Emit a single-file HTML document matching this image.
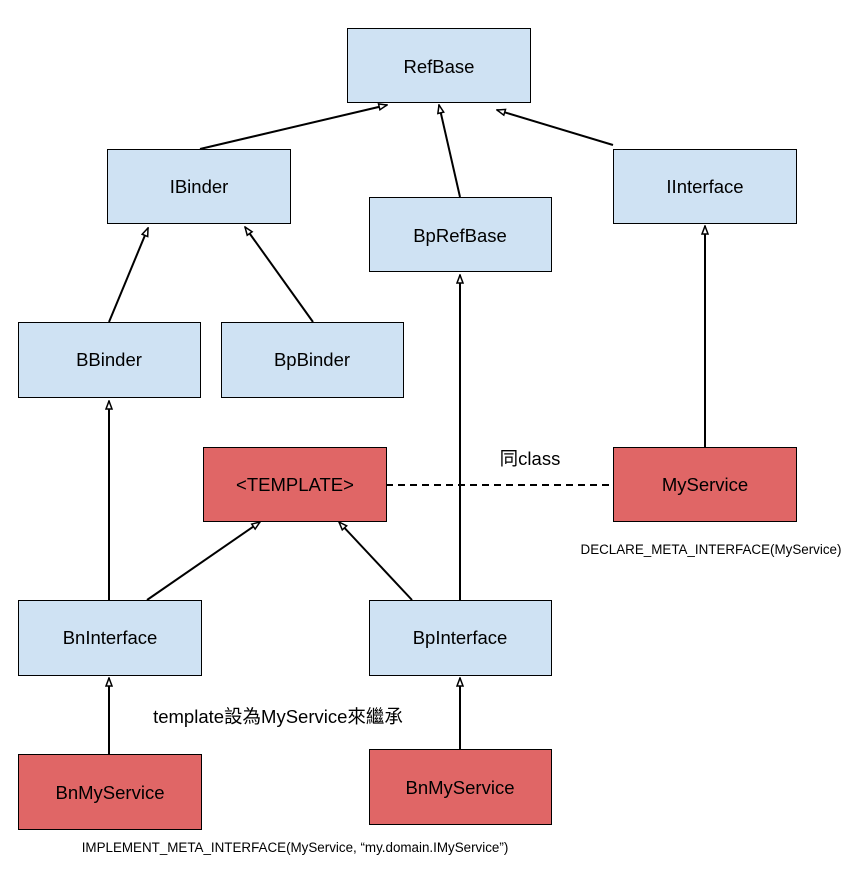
<!DOCTYPE html>
<html><head><meta charset="utf-8"><style>body{margin:0;background:#fff}</style></head><body>
<svg width="858" height="866" xmlns="http://www.w3.org/2000/svg" font-family="'Liberation Sans','Noto Sans CJK TC',sans-serif">
<defs><marker id="a" markerWidth="10" markerHeight="10" refX="9" refY="4" orient="auto" markerUnits="userSpaceOnUse"><path d="M1,1 L9,4 L1,7 Z" fill="#fff" stroke="#000" stroke-width="1.5"/></marker></defs>
<g fill="#cfe2f3" stroke="#000" stroke-width="1">
<rect x="347.5" y="28.5" width="183" height="74"/>
<rect x="107.5" y="149.5" width="183" height="74"/>
<rect x="369.5" y="197.5" width="182" height="74"/>
<rect x="613.5" y="149.5" width="183" height="74"/>
<rect x="18.5" y="322.5" width="182" height="75"/>
<rect x="221.5" y="322.5" width="182" height="75"/>
<rect x="18.5" y="600.5" width="183" height="75"/>
<rect x="369.5" y="600.5" width="182" height="75"/>
</g>
<g fill="#e06666" stroke="#000" stroke-width="1">
<rect x="203.5" y="447.5" width="183" height="74"/>
<rect x="613.5" y="447.5" width="183" height="74"/>
<rect x="18.5" y="754.5" width="183" height="75"/>
<rect x="369.5" y="749.5" width="182" height="75"/>
</g>
<g stroke="#000" stroke-width="2" marker-end="url(#a)" fill="none">
<line x1="200" y1="149" x2="387" y2="105"/>
<line x1="460" y1="197" x2="439" y2="105"/>
<line x1="613" y1="145" x2="497" y2="110"/>
<line x1="109" y1="322" x2="148" y2="228"/>
<line x1="313" y1="322" x2="245" y2="227"/>
<line x1="109" y1="600" x2="109" y2="401"/>
<line x1="460" y1="600" x2="460" y2="275"/>
<line x1="705" y1="447" x2="705" y2="226"/>
<line x1="147" y1="600" x2="260" y2="522"/>
<line x1="412" y1="600" x2="339" y2="522"/>
<line x1="109" y1="754" x2="109" y2="678"/>
<line x1="460" y1="749" x2="460" y2="678"/>
</g>
<line x1="386" y1="485" x2="613" y2="485" stroke="#000" stroke-width="2" stroke-dasharray="7,5"/>
<g font-size="18.5" text-anchor="middle" fill="#000">
<text x="439" y="73">RefBase</text>
<text x="199" y="193">IBinder</text>
<text x="460" y="242">BpRefBase</text>
<text x="705" y="193">IInterface</text>
<text x="109" y="366">BBinder</text>
<text x="312" y="366">BpBinder</text>
<text x="295" y="491">&lt;TEMPLATE&gt;</text>
<text x="705" y="491">MyService</text>
<text x="110" y="644">BnInterface</text>
<text x="460" y="644">BpInterface</text>
<text x="110" y="799">BnMyService</text>
<text x="460" y="794">BnMyService</text>
<text x="530" y="465">同class</text>
<text x="278" y="723">template設為MyService來繼承</text>
</g>
<g font-size="13.4" text-anchor="middle">
<text x="711" y="554">DECLARE_META_INTERFACE(MyService)</text>
<text x="295" y="852">IMPLEMENT_META_INTERFACE(MyService, “my.domain.IMyService”)</text>
</g>
</svg>
</body></html>
